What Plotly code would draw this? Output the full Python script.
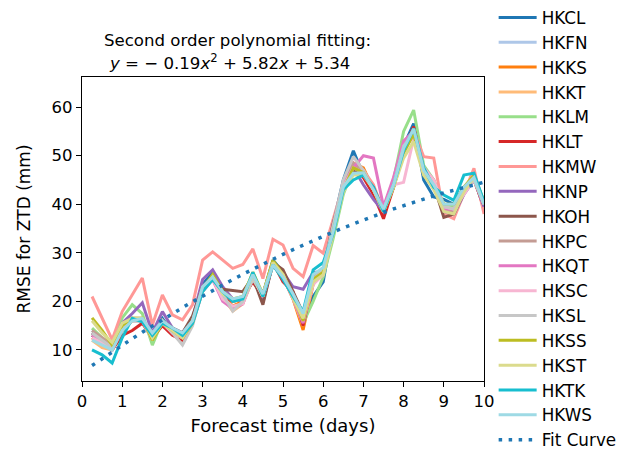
import plotly.graph_objects as go

forecast_days = [0.25 * i for i in range(1, 41)]

stations = ["HKCL", "HKFN", "HKKS", "HKKT", "HKLM", "HKLT", "HKMW", "HKNP", "HKOH",
            "HKPC", "HKQT", "HKSC", "HKSL", "HKSS", "HKST", "HKTK", "HKWS"]

colors = ["#1f77b4", "#aec7e8", "#ff7f0e", "#ffbb78", "#98df8a", "#d62728", "#ff9896",
          "#9467bd", "#8c564b", "#c49c94", "#e377c2", "#f7b6d2", "#c7c7c7", "#bcbd22",
          "#dbdb8d", "#17becf", "#9edae5"]

HKCL = [13, 11.5, 10, 14, 16, 16, 12.5, 16.5, 13.5, 12.5, 16, 23.5, 26, 22, 20, 20.5, 25, 21.5, 28.5, 26,
        21, 15.5, 21, 24, 36, 45, 51, 46, 43.5, 38.5, 44, 52, 56.6, 45, 41.5, 41, 40, 43.5, 45.5, 40]
HKFN = [14, 12, 11, 14.5, 16.5, 16, 13, 15.5, 14, 13, 15.5, 22.5, 24.5, 21, 20.5, 20, 25, 21, 27.5, 25,
        21, 17, 25, 26, 34.5, 43, 47, 46.5, 43, 39, 44, 51, 55, 47.5, 44.5, 39.5, 39.5, 43, 45.5, 40.5]
HKKS = [12.5, 11, 10.5, 14, 16, 16.5, 12, 16, 13.5, 12, 16.5, 22.5, 25, 21.5, 19, 20, 24.5, 21, 27.5, 25,
        20.5, 14.1, 23.5, 26, 35, 44, 48.5, 47.5, 43, 38, 44.5, 51, 55.5, 46.5, 44, 39, 39.5, 42.5, 45, 39.5]
HKKT = [12, 10.5, 10, 14, 16, 16, 12.5, 16, 14, 12.5, 16, 22.5, 24.5, 21, 18, 19.5, 24.5, 21.5, 28, 25,
        20.5, 15, 24, 26, 35, 44, 48, 47, 43, 38.5, 44, 51.5, 55, 47, 44.5, 40, 39.5, 43.5, 45.5, 40]
HKLM = [14.5, 12.5, 11, 16.6, 19.3, 17.5, 11, 16, 14, 12.5, 16, 22, 25, 21, 20, 20.5, 25.5, 20.5, 27.5, 25,
        21.5, 15.5, 20, 25, 33, 42, 47.5, 47, 43.5, 39, 45, 55, 59.4, 48, 45, 40, 39.5, 42.5, 46, 40.5]
HKLT = [13, 11.5, 10, 13, 14, 15.5, 12.5, 15, 13, 12, 15.5, 22.5, 24.5, 21, 20, 21, 24, 21, 28, 24,
        22, 15, 24.5, 26, 35, 44, 48, 45.5, 42, 37, 43.5, 51, 56, 47, 44.5, 39.5, 38.5, 42.5, 45.5, 39]
HKMW = [21, 16.5, 12.1, 17.9, 21.3, 24.8, 15.1, 21.3, 17.2, 16.2, 19.3, 28.5, 30.2, 28.5, 26.8, 27.6, 30.8, 24.7, 32.8, 31.6,
        26.8, 25.1, 31.5, 29.9, 37, 44, 48.5, 47, 44, 38.5, 45, 52, 55, 49.8, 49.5, 38, 37, 42, 47.4, 38]
HKNP = [13.5, 12, 11, 15.5, 17.5, 19.7, 13.5, 17.9, 14.5, 13.5, 16.5, 24.5, 26.5, 23, 20.5, 20, 25.5, 19.8, 28, 26,
        23, 22.5, 26, 26, 36, 44, 47.5, 44, 41, 38.5, 44, 51, 55.5, 46.5, 43.5, 38.5, 38, 42, 45, 39.5]
HKOH = [13.5, 12, 10.5, 14.5, 16.5, 16, 12.5, 16, 14.5, 13.5, 17, 23, 25, 22.5, 22.3, 22, 25, 19.3, 28, 26.5,
        22, 17.5, 25, 26.5, 36, 44, 47, 46, 43.5, 38.5, 43.5, 51.5, 55.5, 46.5, 44, 37.3, 38, 42.5, 45.5, 40]
HKPC = [14, 12.5, 11, 14.5, 16.5, 16.5, 13, 16, 14, 13, 16, 23, 25, 22, 20, 20.5, 25, 21, 28, 25.5,
        21.5, 16.5, 25, 26.5, 35.5, 44, 48.5, 46.5, 43, 38.5, 44, 51, 55.5, 47.5, 45, 39, 38.5, 43, 45.5, 40]
HKQT = [13, 11.5, 10.5, 14.5, 16.5, 16, 12.5, 16, 13.5, 12.5, 15.5, 22, 24.5, 20, 18.5, 19.5, 25, 21, 27.5, 25,
        20.5, 15.5, 24, 26, 35, 44, 47.5, 50, 49.5, 39.5, 45.5, 53, 55, 47, 44.5, 39, 39, 43, 45.5, 40]
HKSC = [12.5, 11.5, 10, 14.5, 16, 16, 12.5, 15.5, 13.5, 12.5, 15.5, 22.5, 24.5, 20.5, 19, 19.5, 25, 21, 28, 25,
        21, 16, 23.5, 25.5, 34.5, 43.5, 47.5, 46.5, 43, 38.5, 44, 44.5, 53.5, 47.5, 45, 39.5, 39, 42, 45, 40.5]
HKSL = [13.5, 12, 10.5, 14.5, 16, 16, 12, 16, 13.5, 11, 15, 22.5, 25, 21.5, 18, 20, 24.5, 21.5, 27.5, 25.5,
        21, 17.5, 24.5, 26.5, 36, 45, 49.8, 47, 43, 39, 44, 52, 54.5, 47, 44, 39.5, 39, 43, 45, 40]
HKSS = [16.6, 14, 11, 15, 16.5, 16.5, 12, 15.5, 14, 12.5, 15.5, 22.5, 25.5, 22, 20.5, 21, 26, 21.5, 28.5, 25.5,
        21, 16, 24.5, 26, 34.5, 43, 47.5, 46.5, 43, 38.5, 43.5, 50.5, 54.5, 46, 43.5, 40, 40, 43.5, 46, 40.5]
HKST = [16, 13.5, 11.5, 15.5, 16.5, 16.5, 12.5, 15.5, 14, 12.5, 16, 22, 25, 21.5, 20.5, 20.5, 25.5, 21, 28, 25.5,
        20.5, 16.5, 24, 25.5, 34, 42.5, 46, 46, 43, 38.5, 43.5, 49.5, 52.9, 46, 43, 38.5, 38, 42.5, 45.5, 40]
HKTK = [10, 9, 7.3, 12.5, 16.5, 15.8, 13, 15.5, 14.5, 13, 15.5, 22, 24.5, 22, 20, 20.5, 26, 21, 27.5, 24.5,
        21, 17.9, 26.5, 28, 34, 43, 45, 46, 43.5, 38.5, 44, 51, 55.6, 47.5, 43.5, 41.9, 40.8, 46, 46.4, 40.5]
HKWS = [12, 11, 10, 14, 16, 16.5, 13.5, 16, 14.5, 13.5, 16, 23, 25, 22, 20.5, 21, 25.5, 21.5, 27.5, 25,
        21.5, 17.5, 25.5, 27, 34.5, 43.5, 46.4, 46.5, 43, 39, 44, 51.5, 55.5, 47, 44, 40, 40, 43.5, 45.5, 40]

series = [HKCL, HKFN, HKKS, HKKT, HKLM, HKLT, HKMW, HKNP, HKOH,
          HKPC, HKQT, HKSC, HKSL, HKSS, HKST, HKTK, HKWS]

# Second order polynomial coefficients shown in the chart (a, b, c)
fit_coeffs = [-0.19, 5.82, 5.34]

FONT = "DejaVu Sans"

fig = go.Figure()
for name, col, vals in zip(stations, colors, series):
    fig.add_trace(go.Scatter(x=forecast_days, y=vals, mode="lines", name=name,
                             line=dict(color=col, width=3)))

fit_vals = [fit_coeffs[0] * x * x + fit_coeffs[1] * x + fit_coeffs[2] for x in forecast_days]
fig.add_trace(go.Scatter(x=forecast_days, y=fit_vals, mode="lines", name="Fit Curve",
                         line=dict(color="#1f77b4", width=3.5, dash="3.5px,6.5px")))

axis_common = dict(showline=True, mirror=True, linecolor="black", linewidth=1.2,
                   ticks="outside", ticklen=5, tickwidth=1.2, tickcolor="black",
                   showgrid=False, zeroline=False,
                   tickfont=dict(family=FONT, size=16.5, color="black"))

fig.update_xaxes(range=[0, 10], dtick=1, tick0=0,
                 title=dict(text="Forecast time (days)", standoff=9,
                            font=dict(family=FONT, size=18, color="black")),
                 **axis_common)
fig.update_yaxes(range=[3.6, 66.2], tickvals=[10, 20, 30, 40, 50, 60],
                 title=dict(text="RMSE for ZTD (mm)", standoff=16,
                            font=dict(family=FONT, size=17, color="black")),
                 **axis_common)

fig.add_annotation(xref="paper", yref="paper", x=0.05, y=1.12, xanchor="left", yanchor="middle",
                   text="Second order polynomial fitting:", showarrow=False,
                   font=dict(family=FONT, size=16.6, color="black"))
fig.add_annotation(xref="paper", yref="paper", x=0.062, y=1.048, xanchor="left", yanchor="middle",
                   text="<i>y</i> = − 0.19<i>x</i><sup>2</sup> + 5.82<i>x</i> + 5.34", showarrow=False,
                   font=dict(family=FONT, size=16.6, color="black"))

fig.update_layout(
    width=629, height=450,
    margin=dict(l=82, r=145, t=77, b=69, autoexpand=False),
    paper_bgcolor="white", plot_bgcolor="white",
    font=dict(family=FONT, size=16, color="black"),
    showlegend=True,
    legend=dict(x=1.024, y=1.006, xanchor="left", yanchor="top", yref="container",
                maxheight=1000, itemwidth=38,
                font=dict(family=FONT, size=16.8, color="black"),
                bgcolor="rgba(0,0,0,0)", borderwidth=0, tracegroupgap=0),
)

fig.write_html("out.html")
